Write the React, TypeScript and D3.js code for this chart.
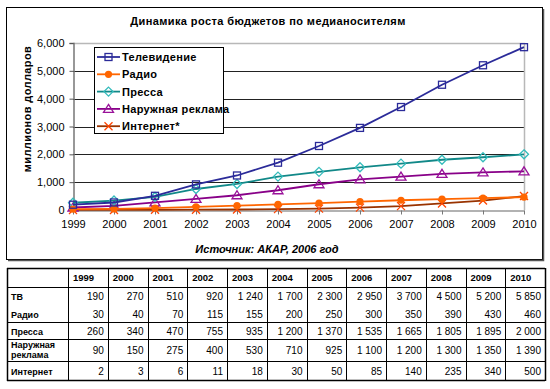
import { useEffect, useRef } from "react";
import * as d3 from "d3";

const years = [1999, 2000, 2001, 2002, 2003, 2004, 2005, 2006, 2007, 2008, 2009, 2010];

const tv = [190, 270, 510, 920, 1240, 1700, 2300, 2950, 3700, 4500, 5200, 5850];
const radio = [30, 40, 70, 115, 155, 200, 250, 300, 350, 390, 430, 460];
const press = [260, 340, 470, 755, 935, 1200, 1370, 1535, 1665, 1805, 1895, 2000];
const outdoor = [90, 150, 275, 400, 530, 710, 925, 1100, 1200, 1300, 1350, 1390];
const internet = [2, 3, 6, 11, 18, 30, 50, 85, 140, 235, 340, 500];

const legendNames = ["Телевидение", "Радио", "Пресса", "Наружная реклама", "Интернет*"];
const tableNames = ["ТВ", "Радио", "Пресса", "Наружная|реклама", "Интернет"];
const yTicks = [0, 1000, 2000, 3000, 4000, 5000, 6000];

const FONT = "Arial, 'Liberation Sans', sans-serif";

function App() {
  const ref = useRef<SVGSVGElement>(null);

  useEffect(() => {
    const W = 550;
    const H = 389;
    const svg = d3.select(ref.current);
    svg.selectAll("*").remove();
    svg.attr("width", W).attr("height", H).style("font-family", FONT);

    svg.append("rect").attr("width", W).attr("height", H).attr("fill", "#fff");

    // chart frame (with a little shadow)
    svg.append("rect")
      .attr("x", 6.5).attr("y", 7.5).attr("width", 536).attr("height", 252)
      .attr("fill", "#fff").attr("stroke", "#000").attr("stroke-width", 1);
    svg.append("path")
      .attr("d", "M8,260.5 H543.5 V9")
      .attr("fill", "none").attr("stroke", "#555").attr("stroke-width", 1.5);

    const x = d3.scalePoint<number>().domain(years).range([73, 524]);
    const y = d3.scaleLinear().domain([0, 6000]).range([210, 43]);

    // grid
    svg.append("g")
      .selectAll("line")
      .data(yTicks.filter(t => t > 0 && t < 6000))
      .join("line")
      .attr("x1", 73).attr("x2", 524)
      .attr("y1", d => Math.round(y(d)) + 0.5).attr("y2", d => Math.round(y(d)) + 0.5)
      .attr("stroke", "#222").attr("stroke-width", 1);

    // plot border (gray) top & right
    svg.append("path")
      .attr("d", `M73,${Math.round(y(6000)) + 0.5} H524.5 V210`)
      .attr("fill", "none").attr("stroke", "#b8b8b8").attr("stroke-width", 1.5);

    // y axis
    const yAxis = svg.append("g")
      .attr("transform", "translate(73.5,0)")
      .call(d3.axisLeft(y).tickValues(yTicks).tickSize(4).tickPadding(5).tickFormat(d3.format(",")));
    yAxis.select(".domain").attr("stroke", "#777").attr("stroke-width", 1.5);
    yAxis.selectAll(".tick line").attr("stroke", "#555");
    yAxis.selectAll("text").attr("font-size", 11).attr("fill", "#000").attr("font-family", FONT);

    // x axis
    const xAxis = svg.append("g")
      .attr("transform", "translate(0,210.5)")
      .call(d3.axisBottom(x).tickSize(4).tickPadding(6).tickSizeOuter(0));
    xAxis.select(".domain").attr("stroke", "#999").attr("stroke-width", 1.5);
    xAxis.selectAll(".tick line").attr("stroke", "#777");
    xAxis.selectAll("text").attr("font-size", 11).attr("fill", "#000").attr("font-family", FONT);

    // title, axis label, source
    svg.append("text")
      .attr("x", 268).attr("y", 25).attr("text-anchor", "middle")
      .attr("font-size", 11).attr("font-weight", "bold").attr("letter-spacing", 0.4)
      .text("Динамика роста бюджетов по медианосителям");
    svg.append("text")
      .attr("transform", "translate(31,109) rotate(-90)").attr("text-anchor", "middle")
      .attr("font-size", 11).attr("font-weight", "bold").attr("letter-spacing", 0.4)
      .text("миллионов долларов");
    svg.append("text")
      .attr("x", 267).attr("y", 253).attr("text-anchor", "middle")
      .attr("font-size", 11).attr("font-weight", "bold").attr("font-style", "italic")
      .text("Источник: АКАР, 2006 год");

    const series = [
      { name: legendNames[0], values: tv, line: "#2b2b99", marker: "square", mk: "#2b2b99" },
      { name: legendNames[1], values: radio, line: "#ff6600", marker: "circle", mk: "#ff6600" },
      { name: legendNames[2], values: press, line: "#118888", marker: "diamond", mk: "#33bbbb" },
      { name: legendNames[3], values: outdoor, line: "#880088", marker: "triangle", mk: "#991199" },
      { name: legendNames[4], values: internet, line: "#993300", marker: "cross", mk: "#ff4400" },
    ];

    const drawMarker = (g: any, type: string, color: string, cx: number, cy: number) => {
      if (type === "square") {
        g.append("rect").attr("x", cx - 3.5).attr("y", cy - 3.5).attr("width", 7).attr("height", 7)
          .attr("fill", "none").attr("stroke", color).attr("stroke-width", 1.3);
      } else if (type === "circle") {
        g.append("circle").attr("cx", cx).attr("cy", cy).attr("r", 3.6).attr("fill", color);
      } else if (type === "diamond") {
        g.append("path").attr("d", `M${cx},${cy - 4.5} L${cx + 4.5},${cy} L${cx},${cy + 4.5} L${cx - 4.5},${cy} Z`)
          .attr("fill", "none").attr("stroke", color).attr("stroke-width", 1.3);
      } else if (type === "triangle") {
        g.append("path").attr("d", `M${cx},${cy - 4.5} L${cx + 5},${cy + 3.5} L${cx - 5},${cy + 3.5} Z`)
          .attr("fill", "none").attr("stroke", color).attr("stroke-width", 1.3);
      } else {
        g.append("path").attr("d", `M${cx - 4},${cy - 4} L${cx + 4},${cy + 4} M${cx + 4},${cy - 4} L${cx - 4},${cy + 4}`)
          .attr("fill", "none").attr("stroke", color).attr("stroke-width", 1.3);
      }
    };

    const line = d3.line<number>().x((_, i) => x(years[i]) as number).y(d => y(d));
    const plot = svg.append("g");
    // draw bottom series first so TV is on top
    [...series].reverse().forEach(s => {
      plot.append("path").attr("d", line(s.values)).attr("fill", "none")
        .attr("stroke", s.line).attr("stroke-width", 1.8);
      const mg = plot.append("g");
      s.values.forEach((v, i) => drawMarker(mg, s.marker, s.mk, x(years[i]) as number, y(v)));
    });

    // legend
    const lg = svg.append("g");
    lg.append("rect").attr("x", 94.5).attr("y", 47.5).attr("width", 129).attr("height", 86)
      .attr("fill", "#fff").attr("stroke", "#000").attr("stroke-width", 1);
    series.forEach((s, i) => {
      const ly = 57 + i * 17.3;
      lg.append("line").attr("x1", 97).attr("x2", 120).attr("y1", ly).attr("y2", ly)
        .attr("stroke", s.line).attr("stroke-width", 1.8);
      drawMarker(lg, s.marker, s.mk, 108.5, ly);
      lg.append("text").attr("x", 122).attr("y", ly + 4).attr("font-size", 11)
        .attr("font-weight", "bold").attr("letter-spacing", 0.3).text(s.name);
    });

    // table
    const tx0 = 7;
    const firstW = 61;
    const tx1 = 545;
    const cols = d3.scaleBand<number>().domain(years).range([tx0 + firstW, tx1]);
    const rowH = [19, 18, 17, 17, 22, 19]; // header + rows
    const rowY: number[] = [268];
    rowH.forEach((h, i) => rowY.push(rowY[i] + h));
    const tg = svg.append("g");
    const tableData = [tv, radio, press, outdoor, internet];
    const numFmt = (v: number) => d3.format(",")(v).replace(/,/g, " ");

    // horizontal lines: no line between TV and Radio
    rowY.forEach((yy, i) => {
      if (i === 2) return;
      tg.append("line").attr("x1", tx0).attr("x2", tx1).attr("y1", yy + 0.5).attr("y2", yy + 0.5)
        .attr("stroke", "#000").attr("stroke-width", i === 0 || i === rowY.length - 1 ? 1.5 : 1);
    });
    const vx = [tx0, ...years.map(yr => cols(yr) as number), tx1];
    vx.forEach((xx, i) => {
      tg.append("line").attr("x1", Math.round(xx) + 0.5).attr("x2", Math.round(xx) + 0.5)
        .attr("y1", rowY[0]).attr("y2", rowY[rowY.length - 1] + 1)
        .attr("stroke", "#000").attr("stroke-width", i === 0 || i === vx.length - 1 ? 1.5 : 1);
    });

    years.forEach(yr => {
      tg.append("text").attr("x", (cols(yr) as number) + 5).attr("y", rowY[0] + 13)
        .attr("font-size", 9.5).attr("font-weight", "bold").text(String(yr));
    });
    tableNames.forEach((nm, r) => {
      const top = rowY[r + 1];
      const h = rowH[r + 1];
      const parts = nm.split("|");
      parts.forEach((p, k) => {
        tg.append("text").attr("x", tx0 + 4)
          .attr("y", parts.length > 1 ? top + 9 + k * 10 : top + h / 2 + 4)
          .attr("font-size", 9).attr("font-weight", "bold").text(p);
      });
      tableData[r].forEach((v, c) => {
        tg.append("text").attr("x", (cols(years[c]) as number) + cols.bandwidth() - 4)
          .attr("y", top + h / 2 + 4).attr("text-anchor", "end")
          .attr("font-size", 10).text(numFmt(v));
      });
    });
  }, []);

  return (
    <div style={{ position: "absolute", left: 0, top: 0 }}>
      <svg ref={ref}></svg>
    </div>
  );
}

export default App;
